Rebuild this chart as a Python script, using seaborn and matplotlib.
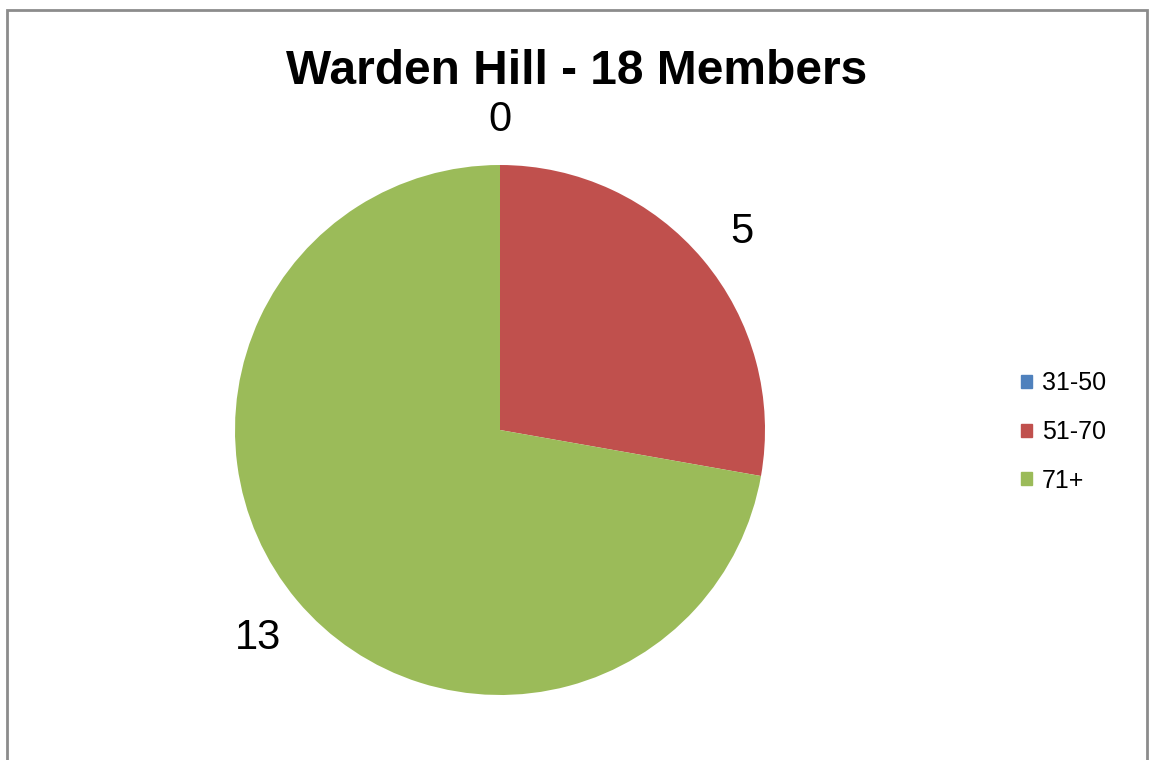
import matplotlib
matplotlib.use("Agg")
import matplotlib.pyplot as plt
import matplotlib.patches as mpatches
import matplotlib.transforms as mtransforms
import seaborn as sns

# data
age_groups = ["31-50", "51-70", "71+"]
members = [0, 5, 13]
colors = ["#4F81BD", "#C0504D", "#9BBB59"]
title = "Warden Hill - 18 Members"

sns.set_theme(style="white")
plt.rcParams["font.family"] = ["Liberation Sans", "DejaVu Sans"]
plt.rcParams["text.color"] = "black"

W, H = 1149, 760
fig = plt.figure(figsize=(W / 100, H / 100), dpi=100)

# pie axes: centre (500, 430) px, radius 265 px
cx, cy, r = 500, 430, 265
ax = fig.add_axes([(cx - r) / W, (H - cy - r) / H, 2 * r / W, 2 * r / H])

wedges, texts = ax.pie(
    members,
    labels=[str(v) for v in members],
    colors=colors,
    startangle=90,
    counterclock=False,
    labeldistance=1.19,
    wedgeprops=dict(linewidth=0),
    textprops=dict(fontsize=30, color="black"),
)
# nudge labels down a little so the digits sit visually centred
shift = mtransforms.ScaledTranslation(0, -5 / 100, fig.dpi_scale_trans)
for t in texts:
    t.set_ha("center")
    t.set_va("center")
    t.set_transform(t.get_transform() + shift)
ax.set_xlim(-1, 1)
ax.set_ylim(-1, 1)
ax.axis("off")

fig.text(577 / W, 1 - 72 / H, title, ha="center", va="center",
         fontsize=34.5, fontweight="bold", color="black")

handles = [mpatches.Patch(color=c, label=l) for c, l in zip(colors, age_groups)]
fig.legend(handles=handles, loc="center left",
           bbox_to_anchor=(1021 / W, 1 - 432 / H),
           frameon=False, fontsize=18, labelcolor="black",
           handlelength=0.42, handleheight=0.42,
           handletextpad=0.42, labelspacing=0.98, borderpad=0, borderaxespad=0)

# outer chart border
fig.patches.append(mpatches.Rectangle(
    (7 / W, -0.02), (1147 - 7) / W, 1.02 - 10 / H,
    transform=fig.transFigure, fill=False, edgecolor="#8c8c8c", linewidth=2))

fig.savefig("out.png", dpi=100)
